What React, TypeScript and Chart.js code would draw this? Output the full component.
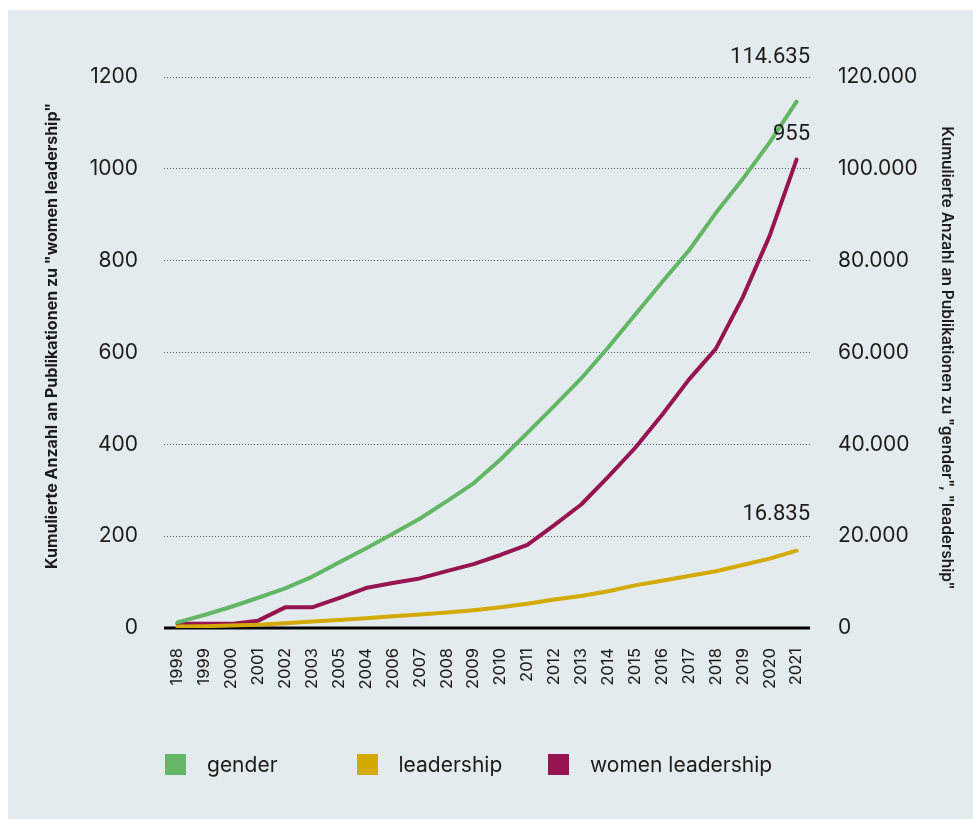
import React, { useEffect, useRef } from "react";
import { Chart, registerables } from "chart.js";

Chart.register(...registerables);

const years = ["1998", "1999", "2000", "2001", "2002", "2003", "2005", "2004", "2006", "2007", "2008", "2009", "2010", "2011", "2012", "2013", "2014", "2015", "2016", "2017", "2018", "2019", "2020", "2021"];
const gender = [1240, 2830, 4630, 6590, 8630, 11150, 14280, 17330, 20540, 23800, 27590, 31500, 36700, 42500, 48390, 54350, 61090, 68220, 75300, 82220, 90370, 97770, 105750, 114635];
const leadership = [300, 400, 520, 700, 1040, 1390, 1760, 2130, 2540, 2960, 3370, 3890, 4500, 5300, 6200, 6960, 8020, 9280, 10300, 11330, 12370, 13720, 15110, 16835];
const womenLeadership = [9, 9, 9, 16, 45, 45, 65, 87, 98, 108, 124, 139, 159, 181, 224, 269, 329, 392, 464, 541, 608, 720, 854, 1020];
const seriesNames = ["gender", "leadership", "women leadership"];
const seriesColors = ["#63b665", "#d4a900", "#96144f"];
const endLabels = ["114.635", "16.835", "955"];
const leftTitle = 'Kumulierte Anzahl an Publikationen zu "women leadership"';
const rightTitle = 'Kumulierte Anzahl an Publikationen zu "gender", "leadership"';

const FONT = "Inter, 'Noto Sans', sans-serif";
const TEXT = "#1b1b1b";
const BG = "#e3ebee";

const fmt = (v: number) => String(v).replace(/\B(?=(\d{3})+(?!\d))/g, ".");

const overlay = {
  id: "overlay",
  beforeDatasetsDraw(chart: any) {
    const { ctx, chartArea } = chart;
    const y0 = chart.scales.y.getPixelForValue(0);
    ctx.save();
    ctx.strokeStyle = "#000";
    ctx.lineWidth = 3;
    ctx.beginPath();
    ctx.moveTo(chartArea.left, y0);
    ctx.lineTo(chartArea.right, y0);
    ctx.stroke();
    ctx.restore();
  },
  afterDatasetsDraw(chart: any) {
    const { ctx, chartArea } = chart;
    ctx.save();
    const offsets = [44, 36, 25];
    ctx.font = `22px Roboto, ${FONT}`;
    ctx.fillStyle = TEXT;
    ctx.textAlign = "right";
    ctx.textBaseline = "middle";
    endLabels.forEach((lab, i) => {
      const meta = chart.getDatasetMeta(i);
      const pt = meta.data[meta.data.length - 1];
      ctx.fillText(lab, chartArea.right, pt.y - offsets[i]);
    });
    ctx.textAlign = "center";
    ctx.font = `bold 16px ${FONT}`;
    ctx.save();
    ctx.translate(44, 326);
    ctx.rotate(-Math.PI / 2);
    ctx.fillText(leftTitle, 0, 0);
    ctx.restore();
    ctx.font = `600 15.5px ${FONT}`;
    ctx.save();
    ctx.translate(939, 348);
    ctx.rotate(Math.PI / 2);
    ctx.fillText(rightTitle, 0, 0);
    ctx.restore();
    ctx.restore();
  },
};

export default function App() {
  const ref = useRef<HTMLCanvasElement>(null);
  useEffect(() => {
    if (!ref.current) return;
    Chart.defaults.font.family = FONT;
    const chart = new Chart(ref.current, {
      type: "line",
      data: {
        labels: years,
        datasets: [
          { label: seriesNames[0], data: gender, yAxisID: "y2" },
          { label: seriesNames[1], data: leadership, yAxisID: "y2" },
          { label: seriesNames[2], data: womenLeadership, yAxisID: "y" },
        ].map((d, i) => ({
          ...d,
          borderColor: seriesColors[i],
          backgroundColor: seriesColors[i],
          borderWidth: 4,
          pointRadius: 0,
          tension: 0,
          fill: false,
          borderCapStyle: "round" as const,
          borderJoinStyle: "round" as const,
        })),
      },
      options: {
        responsive: false,
        animation: false,
        layout: { padding: { top: 67, left: 0, right: 0, bottom: 0 } },
        plugins: { legend: { display: false }, tooltip: { enabled: false } },
        scales: {
          x: {
            type: "category",
            offset: true,
            grid: { display: false, drawTicks: false },
            border: { display: false },
            ticks: {
              minRotation: 90,
              maxRotation: 90,
              autoSkip: false,
              padding: 20,
              color: TEXT,
              font: { size: 16.5, family: FONT },
            },
            afterFit: (s: any) => {
              s.height = 191;
            },
          },
          y: {
            position: "left",
            min: 0,
            max: 1200,
            ticks: { stepSize: 200, padding: 26, color: TEXT, font: { size: 21, family: FONT }, callback: (v: any) => String(v) },
            grid: {
              drawTicks: false,
              lineWidth: 1,
              color: (c: any) => (c.tick && c.tick.value === 0 ? "rgba(0,0,0,0)" : "#5a5a5a"),
            },
            border: { display: false, dash: [1, 2] },
            afterFit: (s: any) => {
              s.width = 156;
            },
          },
          y2: {
            position: "right",
            min: 0,
            max: 120000,
            ticks: {
              stepSize: 20000,
              padding: 28,
              color: TEXT,
              font: { size: 21, family: FONT },
              callback: (v: any) => fmt(Number(v)),
            },
            grid: { display: false, drawTicks: false },
            border: { display: false },
            afterFit: (s: any) => {
              s.width = 163;
            },
          },
        },
      },
      plugins: [overlay],
    });
    return () => chart.destroy();
  }, []);

  return (
    <div style={{ position: "absolute", left: 8, top: 10, width: 965, height: 809, background: BG, overflow: "hidden" }}>
      <canvas ref={ref} width={965} height={809} style={{ width: 965, height: 809, display: "block" }} />
      {seriesNames.map((n, i) => (
        <div key={n} style={{ position: "absolute", left: 157 + i * 191.5, top: 744, height: 21, display: "flex", alignItems: "center" }}>
          <div style={{ width: 21, height: 21, background: seriesColors[i] }} />
          <span style={{ marginLeft: 21, font: `21px ${FONT}`, color: TEXT, lineHeight: "21px", whiteSpace: "nowrap" }}>{n}</span>
        </div>
      ))}
    </div>
  );
}
